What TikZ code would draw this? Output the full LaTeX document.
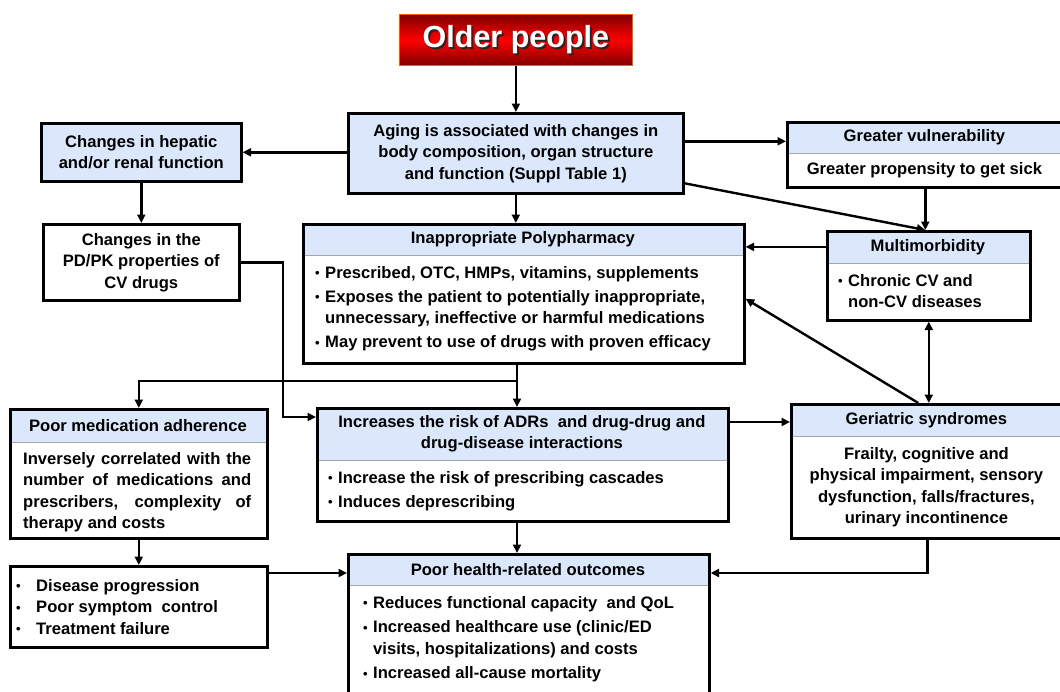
\documentclass[tikz,border=0pt]{standalone}
\usepackage{fontspec}
\setmainfont{Liberation Sans}
\usepackage{tikz}
\usetikzlibrary{arrows.meta,positioning}
\definecolor{hdrblue}{RGB}{219,232,252}
\newcommand{\boxfont}{\fontsize{16.6}{21.5}\selectfont\bfseries}
\newcommand{\bul}{\makebox[10pt][l]{\raisebox{0.3pt}{\fontsize{13}{13}\selectfont\textbullet}}}
\newcommand{\bulsp}{\hspace*{10pt}}
\newcommand{\bigbul}{\makebox[21pt][l]{\hspace*{1pt}\bul}}

\begin{document}
\begin{tikzpicture}[x=1pt, y=-1pt,
        every node/.style={font=\boxfont, inner sep=0pt},
        bluebox/.style={draw, line width=2.6pt, fill=hdrblue, align=center, anchor=north west},
        whitebox/.style={draw, line width=2.6pt, fill=white, align=center, anchor=north west},
        hdr/.style={draw=gray!70, line width=0.8pt, fill=hdrblue, align=center, anchor=north west},
        frame/.style={draw, line width=2.6pt, anchor=north west},
        txt/.style={align=left},
        arr/.style={-{Triangle[length=8.5pt,width=8pt]}, line width=2.4pt},
        dblarr/.style={{Triangle[length=8.5pt,width=8pt]}-{Triangle[length=8.5pt,width=8pt]}, line width=2.4pt}
    ]
        \useasboundingbox (0,0) rectangle (1060,691);
        \fill[white] (0,0) rectangle (1060,691);

        % title
        \node[draw=orange!70!red, line width=0.8pt, top color=red!50!black, bottom color=red!50!black, middle color=red,
              minimum width=233pt, minimum height=51pt, anchor=north west] (older) at (399,14) {};
        \node[font=\fontsize{30.5}{31}\selectfont\bfseries, text=black!85] (oldshadow) at ([xshift=2pt,yshift=-2pt]older.center) {Older people};
        \node[font=\fontsize{30.5}{31}\selectfont\bfseries, text=white] (oldtext) at (older.center) {Older people};

        % top row
        \node[bluebox, minimum width=335pt, minimum height=80pt] (aging) at (347,112) {Aging is associated with changes in\\body composition, organ structure\\and function (Suppl Table 1)};
        \node[bluebox, minimum width=200pt, minimum height=58pt] (hepatic) at (40,122) {Changes in hepatic\\and/or renal function};

        \node[hdr, minimum width=276pt, minimum height=32pt] (vulnh) at (786,121) {Greater vulnerability};
        \node[below=0pt of vulnh, minimum width=276pt, minimum height=33pt] (vulnb) {Greater propensity to get sick};
        \node[frame, minimum width=276pt, minimum height=65pt] (vuln) at (vulnh.north west) {};

        % second row
        \node[whitebox, minimum width=196pt, minimum height=76pt] (pdpk) at (42,223) {Changes in the\\PD/PK properties of\\CV drugs};

        \node[hdr, minimum width=441pt, minimum height=32pt] (polyh) at (302,223) {Inappropriate Polypharmacy};
        \node[txt, below right=10pt and 13pt of polyh.south west] (polyt) {\bul Prescribed, OTC, HMPs, vitamins, supplements\\[2.5pt]
            \bul Exposes the patient to potentially inappropriate,\\\bulsp unnecessary, ineffective or harmful medications\\[2.5pt]
            \bul May prevent to use of drugs with proven efficacy};
        \node[frame, minimum width=441pt, minimum height=139pt] (poly) at (polyh.north west) {};

        \node[hdr, minimum width=203pt, minimum height=33pt] (multih) at (826,230) {Multimorbidity};
        \node[txt, below right=10pt and 12pt of multih.south west] (multit) {\bul Chronic CV and\\\bulsp non-CV diseases};
        \node[frame, minimum width=203pt, minimum height=89pt] (multi) at (multih.north west) {};

        % third row
        \node[hdr, minimum width=257pt, minimum height=34pt] (padh) at (9,408) {Poor medication adherence};
        \node[align=justify, text width=228pt, below right=9pt and 14pt of padh.south west] (padt) {Inversely correlated with the\linebreak
            number of medications and\linebreak prescribers, complexity of\linebreak therapy and costs};
        \node[frame, minimum width=257pt, minimum height=129pt] (pad) at (padh.north west) {};

        \node[hdr, minimum width=411pt, minimum height=53pt] (adrh) at (316,407) {Increases the risk of ADRs\ \ and drug-drug and\\drug-disease interactions};
        \node[txt, below right=10pt and 12pt of adrh.south west] (adrt) {\bul Increase the risk of prescribing cascades\\[2.5pt]\bul Induces deprescribing};
        \node[frame, minimum width=411pt, minimum height=113pt] (adr) at (adrh.north west) {};

        \node[hdr, minimum width=272pt, minimum height=33pt] (gerih) at (790,403) {Geriatric syndromes};
        \node[align=center, below=10pt of gerih.south] (gerit) {Frailty, cognitive and\\physical impairment, sensory\\dysfunction, falls/fractures,\\urinary incontinence};
        \node[frame, minimum width=272pt, minimum height=134pt] (geri) at (gerih.north west) {};

        % bottom row
        \node[whitebox, minimum width=257pt, minimum height=81pt] (disease) at (9,565) {};
        \node[txt, right=6pt of disease.west] (diseaset) {\bigbul Disease progression\\\bigbul Poor symptom\ \ control\\\bigbul Treatment failure};

        \node[hdr, minimum width=361pt, minimum height=32pt] (phh) at (347,553) {Poor health-related outcomes};
        \node[txt, below right=10pt and 16pt of phh.south west] (pht) {\bul Reduces functional capacity\ \ and QoL\\[3pt]
            \bul Increased healthcare use (clinic/ED\\\bulsp visits, hospitalizations) and costs\\[3pt]
            \bul Increased all-cause mortality};
        \node[frame, minimum width=361pt, minimum height=150pt] (ph) at (phh.north west) {};

        % connectors
        \coordinate (pdbend) at (283,417);
        \coordinate (split) at (517,381);
        \coordinate (yadr) at (0,422);
        \coordinate (yout) at (0,573);

        \draw[arr] (older.south) -- (older.south |- aging.north);
        \draw[arr] (aging.west |- hepatic.east) -- (hepatic.east);
        \draw[arr] ([yshift=12pt]aging.east) -- ([yshift=12pt]aging.east -| vuln.west);
        \draw[arr] (aging.south) -- (aging.south |- poly.north);
        \draw[arr] ([yshift=-30pt]aging.east) -- (vuln.south |- multi.north);
        \draw[arr] (vuln.south) -- (vuln.south |- multi.north);
        \draw[arr] (hepatic.south) -- (hepatic.south |- pdpk.north);
        \draw[arr] (multih.west) -- (multih.west -| poly.east);
        \draw[arr] ([xshift=-9pt]geri.north) -- ([yshift=-5pt]poly.east);
        \draw[dblarr] (multi.south) -- (multi.south |- geri.north);
        \draw[arr] (pdpk.east) -| (pdbend) -- (pdbend -| adr.west);
        \draw[arr] (poly.south -| split) -- (split |- adr.north);
        \draw[arr] (split) -| (pad.north);
        \draw[arr] (adr.east |- yadr) -- (geri.west |- yadr);
        \draw[arr] (adr.south -| split) -- (split |- ph.north);
        \draw[arr] (pad.south) -- (pad.south |- disease.north);
        \draw[arr] (disease.east |- yout) -- (ph.west |- yout);
        \draw[arr] (geri.south) |- (yout -| ph.east);
    \end{tikzpicture}
\end{document}
